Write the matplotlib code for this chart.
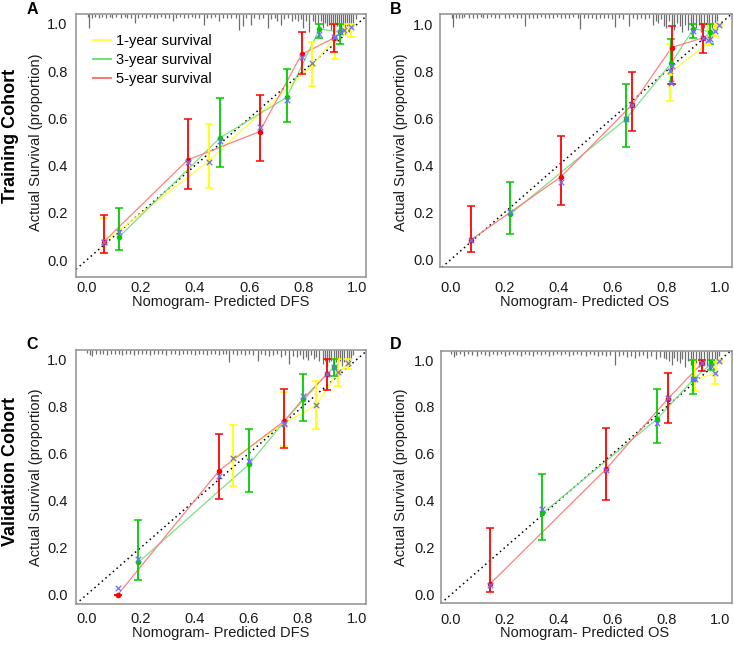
import matplotlib
matplotlib.use("Agg")
import matplotlib.pyplot as plt
import numpy as np
from matplotlib.lines import Line2D

plt.rcParams["font.family"] = ["Liberation Sans", "DejaVu Sans"]

TICKS = [0.0, 0.2, 0.4, 0.6, 0.8, 1.0]
TICK_LABELS = ["0.0", "0.2", "0.4", "0.6", "0.8", "1.0"]
LEGEND_LABELS = ["1-year survival", "3-year survival", "5-year survival"]

# ---- Panel A : training cohort, DFS ----
A_1Y_X = [0.064, 0.451, 0.834, 0.917, 0.951, 0.977]
A_1Y_OBS = [0.075, 0.42, 0.825, 0.94, 0.975, 0.985]
A_1Y_LO = [0.03, 0.304, 0.737, 0.852, 0.955, 0.946]
A_1Y_HI = [0.18, 0.575, 0.925, 1.0, 1.0, 1.0]
A_1Y_CORR = [0.075, 0.417, 0.836, 0.946, 0.975, 0.986]

A_3Y_X = [0.118, 0.493, 0.739, 0.86, 0.936]
A_3Y_OBS = [0.096, 0.518, 0.689, 0.979, 0.965]
A_3Y_LO = [0.042, 0.395, 0.586, 0.94, 0.914]
A_3Y_HI = [0.219, 0.685, 0.808, 1.0, 1.0]
A_3Y_CORR = [0.117, 0.506, 0.678, 0.958, 0.965]

A_5Y_X = [0.064, 0.373, 0.639, 0.794, 0.913]
A_5Y_OBS = [0.078, 0.424, 0.544, 0.871, 0.94]
A_5Y_LO = [0.028, 0.30, 0.42, 0.788, 0.88]
A_5Y_HI = [0.19, 0.596, 0.70, 0.967, 1.0]
A_5Y_CORR = [0.075, 0.417, 0.565, 0.859, 0.945]

# ---- Panel B : training cohort, OS ----
B_1Y_X = [0.814, 0.955, 0.981, 0.995]
B_1Y_OBS = [0.792, 0.92, 0.975, 0.997]
B_1Y_LO = [0.674, 0.915, 0.947, 0.99]
B_1Y_HI = [0.914, 1.0, 1.0, 1.0]
B_1Y_CORR = [0.80, 0.93, 0.972, 0.997]

B_3Y_X = [0.219, 0.649, 0.818, 0.901, 0.963]
B_3Y_OBS = [0.191, 0.595, 0.833, 0.98, 0.967]
B_3Y_LO = [0.108, 0.476, 0.744, 0.939, 0.914]
B_3Y_HI = [0.327, 0.744, 0.935, 1.0, 1.0]
B_3Y_CORR = [0.201, 0.595, 0.748, 0.972, 0.936]

B_5Y_X = [0.073, 0.409, 0.673, 0.82, 0.938]
B_5Y_OBS = [0.082, 0.351, 0.657, 0.90, 0.942]
B_5Y_LO = [0.03, 0.232, 0.545, 0.745, 0.878]
B_5Y_HI = [0.227, 0.524, 0.795, 0.993, 1.0]
B_5Y_CORR = [0.082, 0.33, 0.657, 0.82, 0.942]

# ---- Panel C : validation cohort, DFS ----
C_1Y_X = [0.543, 0.732, 0.849, 0.93, 0.969]
C_1Y_OBS = [0.579, 0.73, 0.805, 0.945, 0.983]
C_1Y_LO = [0.462, 0.63, 0.704, 0.888, 0.958]
C_1Y_HI = [0.721, 0.86, 0.908, 1.0, 1.0]
C_1Y_CORR = [0.579, 0.73, 0.805, 0.945, 0.983]

C_3Y_X = [0.191, 0.602, 0.799, 0.916]
C_3Y_OBS = [0.137, 0.555, 0.831, 0.969]
C_3Y_LO = [0.061, 0.436, 0.738, 0.929]
C_3Y_HI = [0.316, 0.705, 0.94, 1.0]
C_3Y_CORR = [0.15, 0.568, 0.844, 0.969]

C_5Y_X = [0.115, 0.49, 0.731, 0.889]
C_5Y_OBS = [0.0, 0.527, 0.738, 0.938]
C_5Y_LO = [0.0, 0.408, 0.625, 0.87]
C_5Y_HI = [0.0, 0.684, 0.874, 1.0]
C_5Y_CORR = [0.03, 0.504, 0.725, 0.938]

# ---- Panel D : validation cohort, OS ----
D_1Y_X = [0.907, 0.981, 0.995]
D_1Y_OBS = [0.918, 0.943, 0.997]
D_1Y_LO = [0.868, 0.896, 0.99]
D_1Y_HI = [1.0, 1.0, 1.0]
D_1Y_CORR = [0.918, 0.943, 0.997]

D_3Y_X = [0.34, 0.767, 0.901, 0.965]
D_3Y_OBS = [0.347, 0.75, 0.918, 0.983]
D_3Y_LO = [0.233, 0.645, 0.855, 0.957]
D_3Y_HI = [0.513, 0.875, 1.0, 1.0]
D_3Y_CORR = [0.364, 0.733, 0.918, 0.976]

D_5Y_X = [0.145, 0.576, 0.805, 0.932]
D_5Y_OBS = [0.045, 0.535, 0.834, 0.986]
D_5Y_LO = [0.01, 0.403, 0.73, 0.955]
D_5Y_HI = [0.286, 0.712, 0.947, 1.0]
D_5Y_CORR = [0.04, 0.531, 0.84, 0.986]

# ---- rug of predicted values hanging from the top edge (x, relative tick length) ----
A_RUG_X = [0.004, 0.01, 0.02, 0.03, 0.045, 0.055, 0.07, 0.085, 0.095, 0.11, 0.125, 0.14,
           0.15, 0.165, 0.18, 0.19, 0.205, 0.22, 0.235, 0.25, 0.26, 0.275, 0.29, 0.305,
           0.318, 0.33, 0.345, 0.36, 0.375, 0.39, 0.40, 0.415, 0.435, 0.445, 0.46, 0.475,
           0.49, 0.505, 0.52, 0.535, 0.55, 0.564, 0.576, 0.59, 0.607, 0.62, 0.635, 0.65,
           0.669, 0.68, 0.695, 0.705, 0.718, 0.73, 0.745, 0.76, 0.77, 0.78, 0.79, 0.798,
           0.81, 0.823, 0.835, 0.845, 0.855, 0.865, 0.872, 0.88, 0.888, 0.895, 0.903, 0.91,
           0.918, 0.925, 0.932, 0.94, 0.947, 0.955, 0.962, 0.97, 0.977, 0.985, 0.995]
A_RUG_LEN = [0.008, 0.04, 0.01, 0.008, 0.012, 0.008, 0.01, 0.008, 0.012, 0.008, 0.01, 0.008,
             0.012, 0.01, 0.025, 0.01, 0.008, 0.012, 0.008, 0.01, 0.012, 0.008, 0.01, 0.012,
             0.02, 0.01, 0.008, 0.012, 0.01, 0.008, 0.012, 0.01, 0.03, 0.01, 0.012, 0.008,
             0.02, 0.01, 0.012, 0.01, 0.012, 0.045, 0.035, 0.012, 0.03, 0.012, 0.015, 0.012,
             0.04, 0.015, 0.012, 0.02, 0.03, 0.015, 0.012, 0.02, 0.015, 0.02, 0.015, 0.04,
             0.02, 0.05, 0.02, 0.025, 0.03, 0.02, 0.04, 0.025, 0.035, 0.03, 0.045, 0.03,
             0.05, 0.035, 0.04, 0.05, 0.03, 0.045, 0.035, 0.05, 0.03, 0.025, 0.015]

B_RUG_X = [0.003, 0.009, 0.02, 0.03, 0.04, 0.05, 0.065, 0.08, 0.095, 0.11, 0.12, 0.135,
           0.15, 0.165, 0.18, 0.2, 0.215, 0.23, 0.245, 0.26, 0.275, 0.29, 0.305, 0.32,
           0.335, 0.35, 0.365, 0.38, 0.395, 0.41, 0.425, 0.44, 0.455, 0.47, 0.48, 0.495,
           0.51, 0.525, 0.54, 0.555, 0.57, 0.585, 0.6, 0.61, 0.625, 0.64, 0.66, 0.675,
           0.69, 0.705, 0.72, 0.735, 0.75, 0.76, 0.77, 0.78, 0.79, 0.8, 0.81, 0.82,
           0.83, 0.84, 0.85, 0.86, 0.87, 0.88, 0.89, 0.9, 0.91, 0.92, 0.93, 0.94,
           0.95, 0.96, 0.97, 0.98, 0.99]
B_RUG_LEN = [0.01, 0.038, 0.012, 0.01, 0.012, 0.008, 0.012, 0.01, 0.012, 0.008, 0.01, 0.012,
             0.008, 0.01, 0.012, 0.01, 0.012, 0.008, 0.012, 0.01, 0.035, 0.012, 0.01, 0.012,
             0.008, 0.01, 0.012, 0.01, 0.008, 0.012, 0.01, 0.012, 0.008, 0.012, 0.042, 0.01,
             0.012, 0.01, 0.015, 0.012, 0.01, 0.012, 0.015, 0.038, 0.012, 0.015, 0.035, 0.012,
             0.015, 0.012, 0.015, 0.012, 0.03, 0.02, 0.025, 0.015, 0.035, 0.04, 0.02, 0.03,
             0.045, 0.025, 0.035, 0.05, 0.03, 0.045, 0.035, 0.05, 0.04, 0.03, 0.05, 0.04,
             0.045, 0.035, 0.04, 0.03, 0.02]

C_RUG_X = [0.0, 0.01, 0.02, 0.035, 0.05, 0.06, 0.075, 0.09, 0.105, 0.12, 0.13, 0.145,
           0.16, 0.175, 0.19, 0.205, 0.22, 0.235, 0.25, 0.265, 0.28, 0.295, 0.31, 0.325,
           0.34, 0.355, 0.37, 0.385, 0.4, 0.415, 0.43, 0.445, 0.46, 0.475, 0.49, 0.505,
           0.515, 0.527, 0.54, 0.555, 0.57, 0.585, 0.6, 0.615, 0.633, 0.645, 0.66, 0.675,
           0.69, 0.705, 0.72, 0.735, 0.75, 0.765, 0.78, 0.79, 0.8, 0.81, 0.82, 0.83,
           0.84, 0.85, 0.86, 0.874, 0.882, 0.89, 0.898, 0.906, 0.914, 0.922, 0.93, 0.938,
           0.946, 0.954, 0.962, 0.97, 0.978, 0.985]
C_RUG_LEN = [0.008, 0.015, 0.018, 0.01, 0.012, 0.01, 0.015, 0.012, 0.01, 0.012, 0.015, 0.01,
             0.012, 0.015, 0.012, 0.01, 0.012, 0.015, 0.012, 0.01, 0.012, 0.015, 0.01, 0.012,
             0.015, 0.012, 0.01, 0.012, 0.015, 0.01, 0.012, 0.015, 0.012, 0.01, 0.015, 0.012,
             0.01, 0.035, 0.012, 0.015, 0.012, 0.015, 0.012, 0.015, 0.03, 0.012, 0.015, 0.018,
             0.015, 0.012, 0.02, 0.015, 0.04, 0.018, 0.02, 0.015, 0.025, 0.02, 0.028, 0.015,
             0.025, 0.02, 0.03, 0.04, 0.03, 0.045, 0.035, 0.03, 0.045, 0.035, 0.04, 0.03,
             0.045, 0.035, 0.03, 0.04, 0.025, 0.015]

D_RUG_X = [0.0, 0.01, 0.02, 0.035, 0.05, 0.065, 0.08, 0.095, 0.11, 0.125, 0.14, 0.155,
           0.17, 0.185, 0.2, 0.215, 0.23, 0.245, 0.26, 0.275, 0.29, 0.305, 0.32, 0.335,
           0.35, 0.365, 0.38, 0.395, 0.41, 0.425, 0.44, 0.455, 0.47, 0.485, 0.5, 0.515,
           0.53, 0.545, 0.56, 0.575, 0.59, 0.61, 0.625, 0.64, 0.655, 0.67, 0.685, 0.7,
           0.715, 0.73, 0.745, 0.76, 0.775, 0.79, 0.8, 0.81, 0.82, 0.83, 0.84, 0.85,
           0.86, 0.87, 0.88, 0.89, 0.9, 0.91, 0.92, 0.93, 0.94, 0.95, 0.96, 0.97,
           0.98, 0.99, 0.997]
D_RUG_LEN = [0.008, 0.018, 0.012, 0.01, 0.015, 0.01, 0.012, 0.015, 0.01, 0.012, 0.015, 0.01,
             0.012, 0.01, 0.015, 0.012, 0.01, 0.012, 0.015, 0.01, 0.012, 0.015, 0.01, 0.012,
             0.01, 0.015, 0.012, 0.01, 0.012, 0.01, 0.015, 0.012, 0.01, 0.012, 0.015, 0.01,
             0.012, 0.015, 0.012, 0.015, 0.012, 0.04, 0.015, 0.012, 0.018, 0.015, 0.02, 0.015,
             0.012, 0.02, 0.015, 0.025, 0.018, 0.02, 0.025, 0.03, 0.04, 0.02, 0.03, 0.035,
             0.025, 0.045, 0.03, 0.04, 0.05, 0.035, 0.045, 0.05, 0.04, 0.045, 0.05, 0.04,
             0.035, 0.025, 0.015]

# colours: line (light), bars / dots (saturated), legend
LINE_C = {"1y": "#ffff40", "3y": "#80e080", "5y": "#ff8080"}
BAR_C = {"1y": "#ffff00", "3y": "#00cc00", "5y": "#ff0000"}
LEG_C = {"1y": "#ffff33", "3y": "#66dd66", "5y": "#ff6666"}
CORR_C = "#7070ff"
FRAME_C = "#909090"
RUG_C = "#6e6e6e"
RUG_SCALE = 1.5

W, H = 734, 646


def px_axes(fig, left, right, top, bottom):
    return fig.add_axes([left / W, 1 - bottom / H, (right - left) / W, (bottom - top) / H])


def draw_series(ax, xs, obs, lo, hi, corr, key):
    xs, obs, lo, hi = map(np.asarray, (xs, obs, lo, hi))
    ax.plot(xs, obs, color=LINE_C[key], lw=0.9, zorder=2)
    ax.errorbar(xs, obs, yerr=[obs - lo, hi - obs], fmt="o", ms=3.0,
                color=BAR_C[key], ecolor=BAR_C[key], elinewidth=1.3,
                capsize=3, capthick=1.1, zorder=3)
    ax.scatter(xs, corr, marker="x", s=16, color=CORR_C, lw=0.9, zorder=4)


def setup(ax, xlim, ylim, xpad, ypad, rug_x, rug_len):
    ax.set_xlim(*xlim)
    ax.set_ylim(*ylim)
    ax.axline((0, 0), (1, 1), color="black", lw=1.1, ls=(0, (1, 2.2)), zorder=1)
    ax.vlines(rug_x, ylim[1] - RUG_SCALE * np.asarray(rug_len), ylim[1],
              color=RUG_C, lw=0.9, zorder=1)
    ax.set_xticks(TICKS)
    ax.set_xticklabels(TICK_LABELS)
    ax.set_yticks(TICKS)
    ax.set_yticklabels(TICK_LABELS)
    ax.tick_params(axis="x", length=0, pad=xpad, labelsize=10.5, labelcolor="#1a1a1a")
    ax.tick_params(axis="y", length=0, pad=ypad, labelsize=10.5, labelcolor="#1a1a1a")
    for s in ax.spines.values():
        s.set_color(FRAME_C)
        s.set_linewidth(1.1)


fig = plt.figure(figsize=(W / 100, H / 100), dpi=100)

# A
ax = px_axes(fig, 76, 366, 14, 277)
setup(ax, (-0.0395, 1.032), (-0.072, 1.042), 3, 6, A_RUG_X, A_RUG_LEN)
draw_series(ax, A_1Y_X, A_1Y_OBS, A_1Y_LO, A_1Y_HI, A_1Y_CORR, "1y")
draw_series(ax, A_3Y_X, A_3Y_OBS, A_3Y_LO, A_3Y_HI, A_3Y_CORR, "3y")
draw_series(ax, A_5Y_X, A_5Y_OBS, A_5Y_LO, A_5Y_HI, A_5Y_CORR, "5y")
handles = [Line2D([], [], color=LEG_C[k], lw=1.3) for k in ("1y", "3y", "5y")]
ax.legend(handles, LEGEND_LABELS, loc="upper left", bbox_to_anchor=(0.059, 0.925),
          frameon=False, fontsize=10.5, handlelength=1.2, handletextpad=0.4,
          labelspacing=0.35, borderaxespad=0, borderpad=0)

# B
ax = px_axes(fig, 440, 731.7, 14, 267.3)
setup(ax, (-0.041, 1.043), (-0.034, 1.0425), 10, 4.5, B_RUG_X, B_RUG_LEN)
draw_series(ax, B_1Y_X, B_1Y_OBS, B_1Y_LO, B_1Y_HI, B_1Y_CORR, "1y")
draw_series(ax, B_3Y_X, B_3Y_OBS, B_3Y_LO, B_3Y_HI, B_3Y_CORR, "3y")
draw_series(ax, B_5Y_X, B_5Y_OBS, B_5Y_LO, B_5Y_HI, B_5Y_CORR, "5y")

# C
ax = px_axes(fig, 76, 366, 350, 604)
setup(ax, (-0.04, 1.034), (-0.04, 1.04), 6, 6, C_RUG_X, C_RUG_LEN)
draw_series(ax, C_1Y_X, C_1Y_OBS, C_1Y_LO, C_1Y_HI, C_1Y_CORR, "1y")
draw_series(ax, C_3Y_X, C_3Y_OBS, C_3Y_LO, C_3Y_HI, C_3Y_CORR, "3y")
draw_series(ax, C_5Y_X, C_5Y_OBS, C_5Y_LO, C_5Y_HI, C_5Y_CORR, "5y")

# D
ax = px_axes(fig, 440.7, 731.7, 350.7, 603.3)
setup(ax, (-0.038, 1.043), (-0.037, 1.04), 7, 4.5, D_RUG_X, D_RUG_LEN)
draw_series(ax, D_1Y_X, D_1Y_OBS, D_1Y_LO, D_1Y_HI, D_1Y_CORR, "1y")
draw_series(ax, D_3Y_X, D_3Y_OBS, D_3Y_LO, D_3Y_HI, D_3Y_CORR, "3y")
draw_series(ax, D_5Y_X, D_5Y_OBS, D_5Y_LO, D_5Y_HI, D_5Y_CORR, "5y")


# axis labels (placed in figure pixels)
def ftext(x, y, s, **kw):
    fig.text(x / W, 1 - y / H, s, **kw)


lab = dict(fontsize=10.5, color="#1a1a1a")
ftext(221, 302, "Nomogram- Predicted DFS", ha="center", va="center", **lab)
ftext(585, 302, "Nomogram- Predicted OS", ha="center", va="center", **lab)
ftext(221, 633, "Nomogram- Predicted DFS", ha="center", va="center", **lab)
ftext(585, 633, "Nomogram- Predicted OS", ha="center", va="center", **lab)
for x, y in ((36.5, 142), (401.5, 142), (36.5, 477), (401.5, 477)):
    ftext(x, y, "Actual Survival (proportion)", ha="center", va="center", rotation=90, **lab)

row = dict(fontsize=13, fontweight="bold", ha="center", va="center", rotation=90)
ftext(10.5, 136, "Training Cohort", **row)
ftext(10.5, 471, "Validation Cohort", **row)

let = dict(fontsize=11.5, fontweight="bold", ha="center", va="center")
ftext(32, 9, "A", **let)
ftext(396, 9, "B", **let)
ftext(32, 345, "C", **let)
ftext(396, 345, "D", **let)

fig.savefig("out.png", dpi=100)
